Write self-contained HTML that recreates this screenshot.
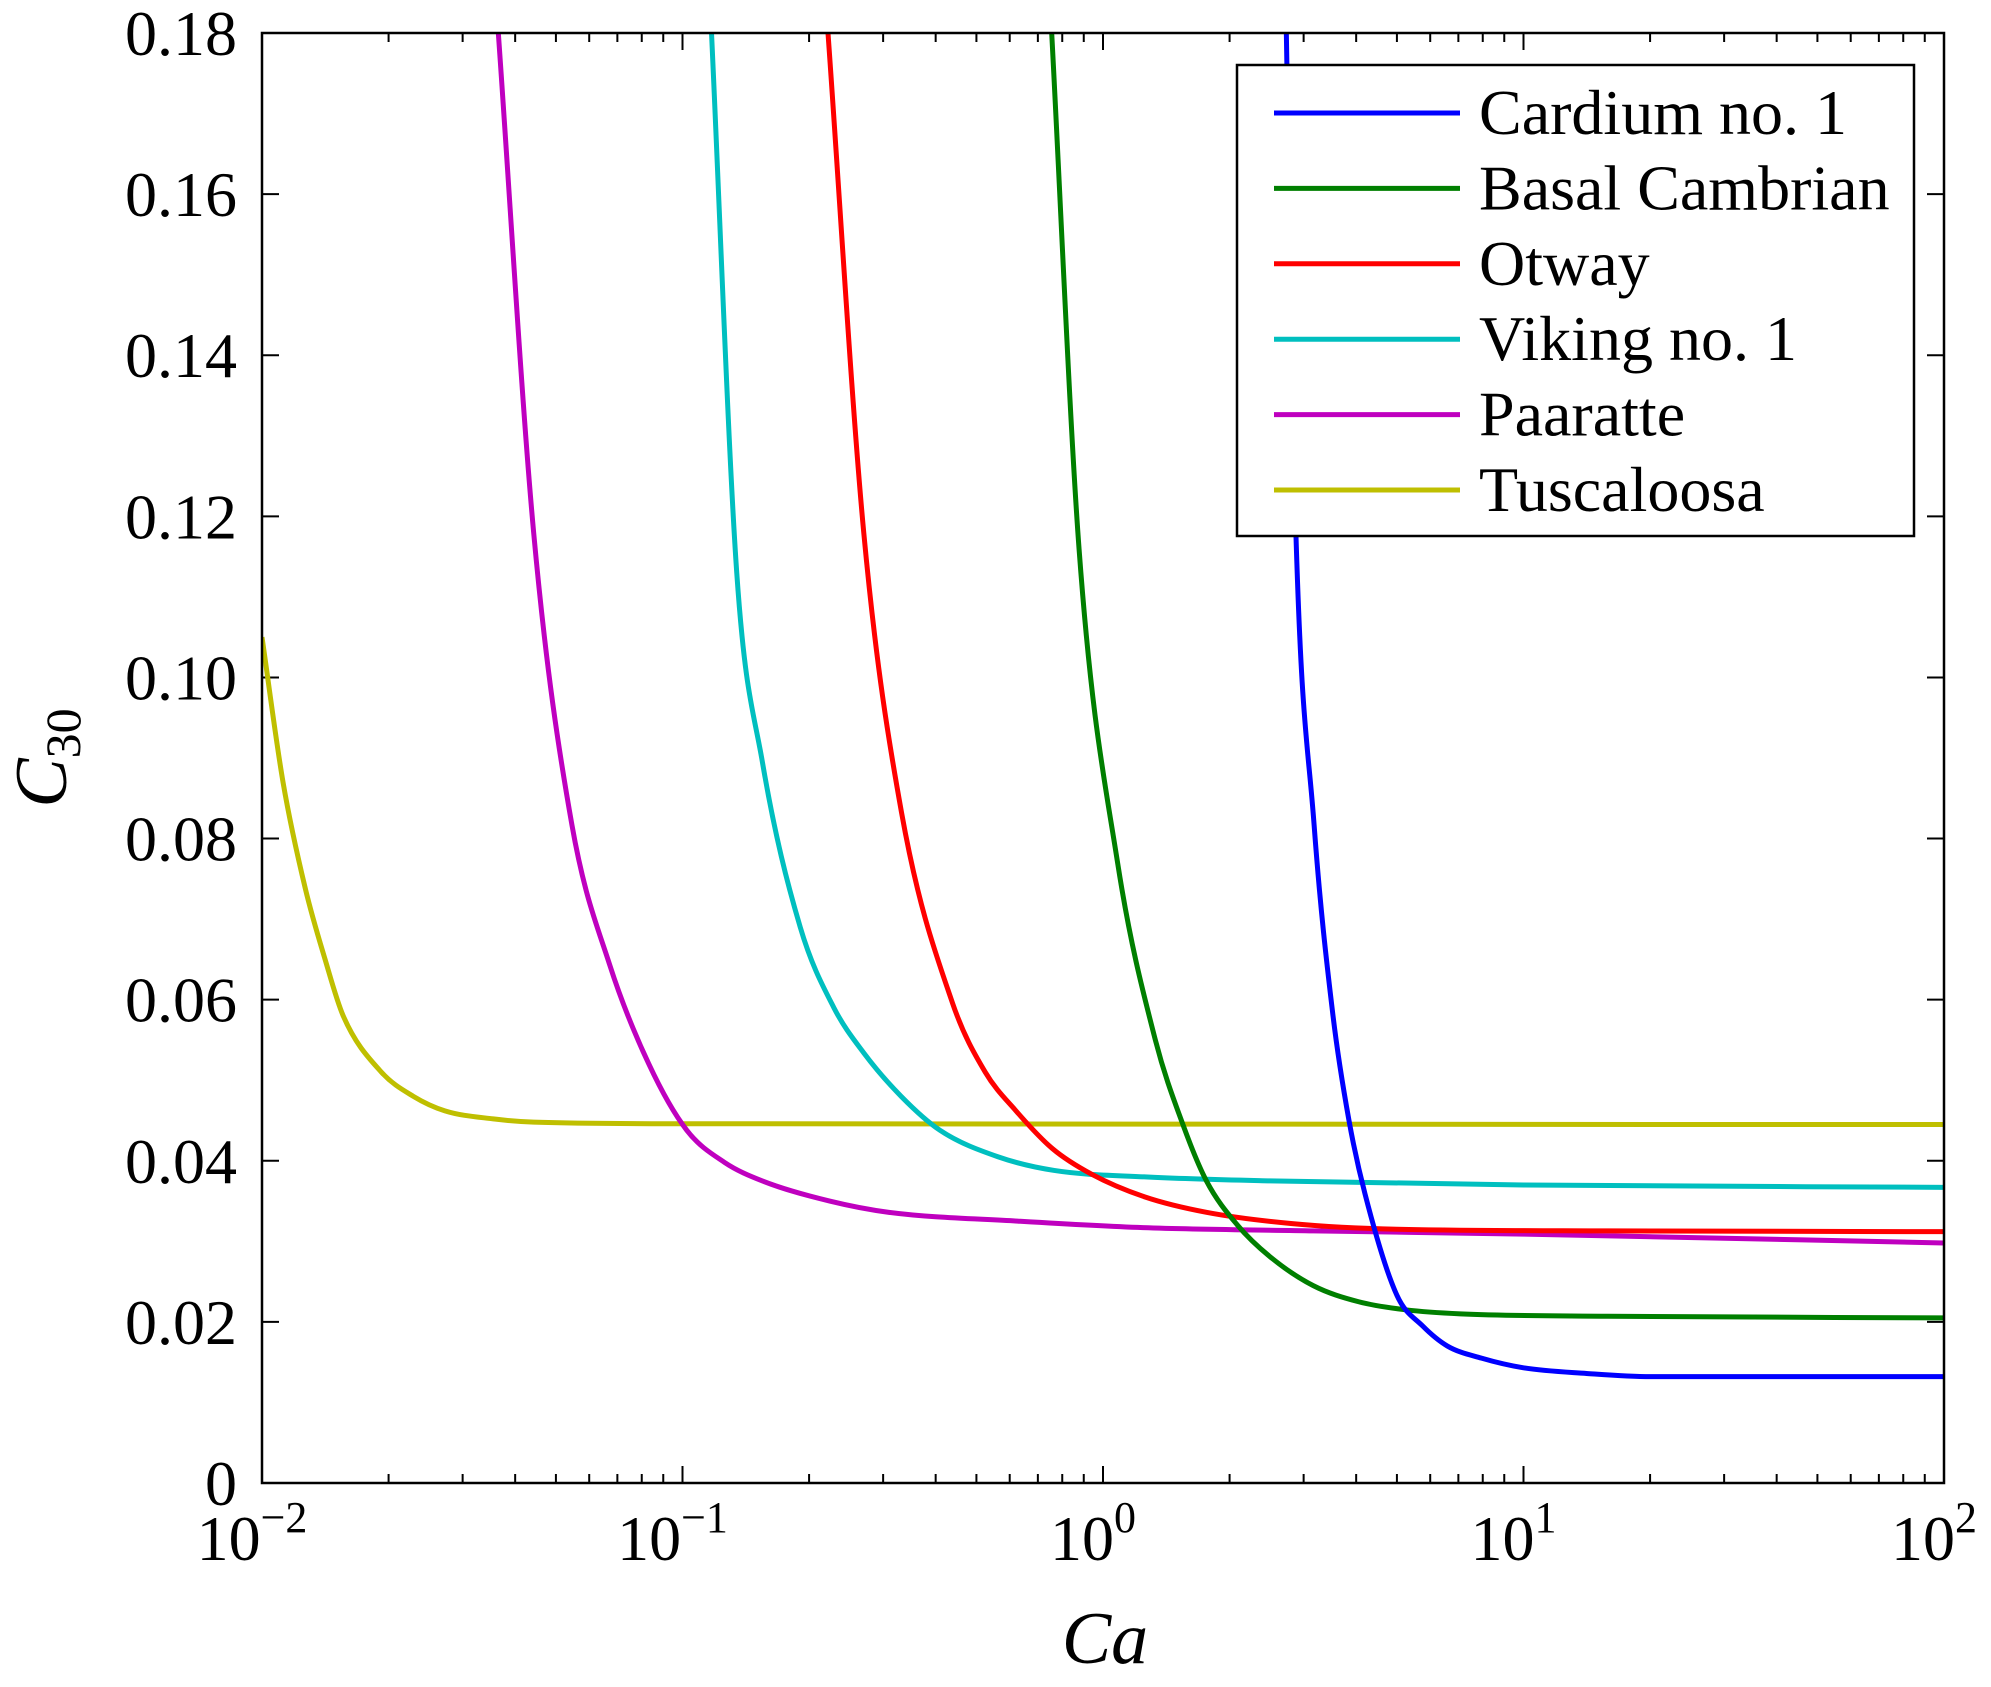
<!DOCTYPE html>
<html><head><meta charset="utf-8">
<style>
html,body{margin:0;padding:0;background:#fff;}
svg{display:block;font-family:"Liberation Serif",serif;}
</style></head>
<body>
<svg id="chart" width="1991" height="1687" viewBox="0 0 1991 1687" xmlns="http://www.w3.org/2000/svg">
<defs><clipPath id="plotclip"><rect x="262" y="33" width="1682" height="1450"/></clipPath></defs>
<g id="ticks"></g>
<g id="curves" clip-path="url(#plotclip)"></g>
<rect x="262" y="33" width="1682" height="1450" fill="none" stroke="#000" stroke-width="2.5"/>
<g id="labels"></g>
<text x="1105" y="1663" font-size="74" font-style="italic" text-anchor="middle">Ca</text>
<text transform="translate(66,758) rotate(-90)" font-size="74" font-style="italic" text-anchor="middle">C<tspan font-style="normal" font-size="50" dy="14">30</tspan></text>
<g id="legend"></g>
</svg>
<script>
const seriesNames = ["Cardium no. 1","Basal Cambrian","Otway","Viking no. 1","Paaratte","Tuscaloosa"];
const seriesColors = ["#0000ff","#007f00","#ff0000","#00bfbf","#bf00bf","#bfbf00"];
const cardiumLogCa = [0.436,0.457,0.502,0.547,0.585,0.623,0.699,0.76,0.819,0.9,1.0,1.15,1.302,2.0];
const cardiumC = [0.18,0.121,0.0817,0.058,0.045,0.0359,0.0233,0.0195,0.017,0.0155,0.0143,0.0136,0.0132,0.0132];
const basalLogCa = [-0.122,-0.057,0.035,0.125,0.19,0.246,0.32,0.397,0.5,0.608,0.72,0.85,1.2,2.0];
const basalC = [0.18,0.116,0.0769,0.0549,0.0445,0.0375,0.032,0.0281,0.0245,0.0225,0.0215,0.021,0.0207,0.0205];
const otwayLogCa = [-0.654,-0.569,-0.479,-0.358,-0.28,-0.207,-0.12,-0.026,0.1,0.246,0.45,0.699,1.2,2.0];
const otwayC = [0.18,0.118,0.0832,0.0596,0.051,0.0462,0.0415,0.0383,0.0355,0.0336,0.0322,0.0315,0.0313,0.0312];
const vikingLogCa = [-0.931,-0.871,-0.81,-0.72,-0.64,-0.569,-0.48,-0.388,-0.25,-0.116,0.1,0.397,1.0,2.0];
const vikingC = [0.18,0.113,0.0895,0.069,0.059,0.0534,0.048,0.0438,0.0405,0.0388,0.038,0.0375,0.037,0.0367];
const paaratteLogCa = [-1.438,-1.354,-1.263,-1.173,-1.08,-0.99,-0.9,-0.81,-0.65,-0.509,-0.2,0.095,0.5,1.0,2.0];
const paaratteC = [0.18,0.118,0.0817,0.0643,0.052,0.0438,0.0398,0.0375,0.035,0.0336,0.0325,0.0317,0.0313,0.0309,0.0298];
const tuscaLogCa = [-2.0,-1.95,-1.897,-1.85,-1.807,-1.716,-1.64,-1.565,-1.45,-1.354,-1.0,2.0];
const tuscaC = [0.105,0.087,0.0738,0.065,0.058,0.051,0.048,0.0462,0.0452,0.0448,0.0446,0.0445];
const yTickValues = [0,0.02,0.04,0.06,0.08,0.10,0.12,0.14,0.16,0.18];
const yTickLabels = ["0","0.02","0.04","0.06","0.08","0.10","0.12","0.14","0.16","0.18"];
const xTickExps = [-2,-1,0,1,2];

const NS="http://www.w3.org/2000/svg";
const L=262,R=1944,T=33,B=1483;
const xs = lg => L + (lg+2)/4*(R-L);
const ys = c => B - c/0.18*(B-T);
function mk(tag,attrs,parent){const e=document.createElementNS(NS,tag);for(const k in attrs)e.setAttribute(k,attrs[k]);parent.appendChild(e);return e;}

const tg=document.getElementById('ticks');
const lg=document.getElementById('labels');
for(let d=-2; d<2; d++){
  for(let m=1;m<=10;m++){
    const x=xs(d+Math.log10(m));
    const len=(m===1||m===10)?17:9;
    const t1=mk('line',{x1:x,y1:B,x2:x,y2:B-len,stroke:'#000','stroke-width':2},tg);
    
    
    const t2=mk('line',{x1:x,y1:T,x2:x,y2:T+len,stroke:'#000','stroke-width':2},tg);
    
    
  }
}
xTickExps.forEach(e=>{
  const t=mk('text',{x:xs(e)-10,y:1560,'font-size':64,'text-anchor':'middle'},lg);
  
  
  t.textContent='10';
  const s=mk('tspan',{'font-size':44,dy:-28},t);
  s.textContent=e<0?'\u2212'+(-e):String(e);
});
yTickValues.forEach((v,i)=>{
  const y=ys(v);
  const a=mk('line',{x1:L,y1:y,x2:L+17,y2:y,stroke:'#000','stroke-width':2},tg);
  
  
  const b=mk('line',{x1:R,y1:y,x2:R-17,y2:y,stroke:'#000','stroke-width':2},tg);
  
  
  const t=mk('text',{x:237,y:y+22,'font-size':64,'text-anchor':'end'},lg);
  
  
  t.textContent=yTickLabels[i];
});

// monotone cubic (Fritsch-Carlson) interpolation in pixel space
function pathFrom(xa,ya){
  const X=xa.map(xs), Y=ya.map(ys), n=X.length;
  const dl=[], m=new Array(n);
  for(let i=0;i<n-1;i++) dl.push((Y[i+1]-Y[i])/(X[i+1]-X[i]));
  m[0]=dl[0]; m[n-1]=dl[n-2];
  for(let i=1;i<n-1;i++) m[i]=(dl[i-1]*dl[i]<=0)?0:(dl[i-1]+dl[i])/2;
  for(let i=0;i<n-1;i++){
    if(dl[i]===0){m[i]=0;m[i+1]=0;continue;}
    const a=m[i]/dl[i], b=m[i+1]/dl[i], s=a*a+b*b;
    if(s>9){const t=3/Math.sqrt(s);m[i]=t*a*dl[i];m[i+1]=t*b*dl[i];}
  }
  let d='M'+X[0]+','+Y[0];
  for(let i=0;i<n-1;i++){
    const h=(X[i+1]-X[i])/3;
    d+=' C'+(X[i]+h)+','+(Y[i]+m[i]*h)+' '+(X[i+1]-h)+','+(Y[i+1]-m[i+1]*h)+' '+X[i+1]+','+Y[i+1];
  }
  return d;
}
const cg=document.getElementById('curves');
const allX=[cardiumLogCa,basalLogCa,otwayLogCa,vikingLogCa,paaratteLogCa,tuscaLogCa];
const allY=[cardiumC,basalC,otwayC,vikingC,paaratteC,tuscaC];
const keys=["cardium","basal-cambrian","otway","viking","paaratte","tuscaloosa"];
for(let i=5;i>=0;i--){
  const p=mk('path',{d:pathFrom(allX[i],allY[i]),fill:'none',stroke:seriesColors[i],'stroke-width':5},cg);
  
  
}
const lgd=document.getElementById('legend');
const box=mk('rect',{x:1237,y:65,width:677,height:471,fill:'#fff',stroke:'#000','stroke-width':2.5},lgd);


seriesNames.forEach((n,i)=>{
  const y=113+i*75.4;
  const l=mk('line',{x1:1274,y1:y,x2:1460,y2:y,stroke:seriesColors[i],'stroke-width':5},lgd);
  
  
  const t=mk('text',{x:1479,y:y+21,'font-size':64,textLength:0},lgd);
  t.removeAttribute('textLength');
  
  
  t.textContent=n;
});
</script>
</body></html>
